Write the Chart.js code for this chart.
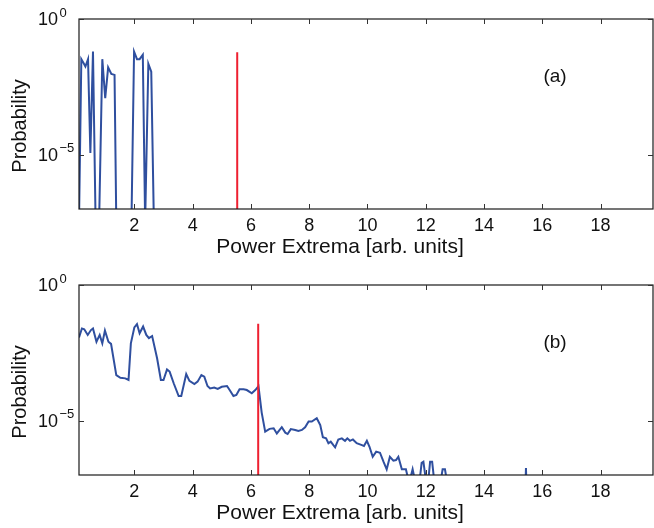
<!DOCTYPE html>
<html>
<head>
<meta charset="utf-8">
<script src="https://cdn.jsdelivr.net/npm/chart.js@4.4.1/dist/chart.umd.min.js"></script>
<style>
  html, body { margin: 0; padding: 0; background: #fff; }
  #wrap { position: relative; width: 654px; height: 528px; overflow: hidden; }
  canvas { position: absolute; left: 0; }
</style>
</head>
<body>
<div id="wrap">
  <canvas id="panelA" width="654" height="264" style="top:0px"></canvas>
  <canvas id="panelB" width="654" height="264" style="top:266px"></canvas>
</div>
<script>
// axis ranges and ticks
const xMin = 0.1, xMax = 19.8;
const yMin = 1e-7, yMax = 1;
const xTickValues = [2, 4, 6, 8, 10, 12, 14, 16, 18];
const yTickValues = [1e-5, 1];
const yTickExponents = ["\u22125", "0"];

// panel (a): bin centres and log10(probability); values under -7 fall below the axis
const topX   = [0.1, 0.18, 0.26, 0.32, 0.41, 0.49, 0.58, 0.67, 0.79, 0.9, 1.0, 1.1, 1.21, 1.32, 1.38,
                1.9, 1.99, 2.09, 2.18, 2.29, 2.37, 2.48, 2.58, 2.67];
const topExp = [-7.5, -1.48, -1.63, -1.75, -1.48, -4.94, -1.2, -7.5, -7.5, -1.48, -2.92, -1.78, -2.02, -2.06, -7.5,
                -7.5, -1.2, -1.48, -1.48, -1.32, -7.5, -1.65, -1.94, -7.5];

// panel (b)
const botX = [0.1, 0.2, 0.28, 0.4, 0.51, 0.58, 0.7, 0.81, 0.9, 0.99, 1.11, 1.2, 1.38, 1.52, 1.69, 1.8, 1.88,
              2.0, 2.09, 2.18, 2.3, 2.41, 2.5, 2.61, 2.78, 2.91, 3.0, 3.12, 3.21, 3.35, 3.52, 3.61, 3.78, 3.89,
              4.06, 4.17, 4.3, 4.4, 4.51, 4.6, 4.74, 4.86, 5.0, 5.18, 5.27, 5.4, 5.5, 5.61, 5.75, 5.86,
              6.03, 6.15, 6.26, 6.37, 6.49, 6.64, 6.78, 6.89, 7.06, 7.18, 7.26, 7.37, 7.52, 7.63, 7.75, 7.86,
              7.98, 8.09, 8.26, 8.38, 8.47, 8.58, 8.66, 8.74, 8.83, 8.89, 9.0, 9.12, 9.23, 9.31, 9.4, 9.5,
              9.63, 9.81, 9.88, 9.98, 10.07, 10.18, 10.3, 10.43, 10.55, 10.66, 10.77, 10.89, 10.98, 11.06,
              11.18, 11.32, 11.43, 11.55, 11.65, 11.78, 11.86, 11.92, 12.02, 12.08, 12.15, 12.22, 12.3,
              12.5, 12.58, 12.66, 12.74, 15.38, 15.44, 15.5];
const botExp = [-1.93, -1.6, -1.63, -1.84, -1.66, -1.6, -2.09, -1.84, -2.15, -1.68, -2.09, -2.17, -3.32, -3.42, -3.44, -3.5, -2.15,
                -1.56, -1.44, -1.78, -1.53, -1.84, -1.96, -1.88, -2.7, -3.5, -3.5, -3.11, -3.19, -3.62, -4.09, -4.09, -3.28, -3.53,
                -3.65, -3.56, -3.32, -3.38, -3.72, -3.81, -3.78, -3.83, -3.75, -3.72, -3.87, -4.09, -4.05, -3.84, -3.84, -3.87,
                -3.99, -3.87, -3.73, -4.7, -5.4, -5.3, -5.28, -5.47, -5.24, -5.44, -5.49, -5.31, -5.34, -5.38, -5.34, -5.24,
                -5.03, -5.03, -4.91, -5.16, -5.61, -5.65, -5.83, -5.77, -5.9, -5.98, -5.69, -5.65, -5.74, -5.65, -5.74, -5.69,
                -5.83, -5.9, -5.93, -5.74, -5.96, -6.33, -6.14, -6.18, -6.51, -6.79, -6.33, -6.47, -6.45, -6.33,
                -6.79, -6.79, -7.3, -6.79, -7.3, -7.3, -6.55, -6.51, -7.3, -7.3, -6.51, -6.51, -7.3,
                -7.3, -6.79, -6.79, -7.3, -9, -6.74, -9];

// red threshold markers: x position and top value
const markerA = { x: 5.53, top: 0.06 };
const markerB = { x: 6.25, top: 0.037 };

const BOTTOM = 1e-12; // lower end of the red markers, below the axis
const BLUE = "#2f4f9f";
const RED = "#ee2030";
const FONT = "'Liberation Sans', Arial, sans-serif";

function toPoints(xs, exps) {
  return xs.map((x, i) => ({ x: x, y: Math.pow(10, exps[i]) }));
}

const framePlugin = {
  id: "frame",
  afterDraw(chart, args, opts) {
    const ctx = chart.ctx, a = chart.chartArea;
    const xs = chart.scales.x, ys = chart.scales.y;
    ctx.save();
    ctx.strokeStyle = "#1a1a1a";
    ctx.lineWidth = 1.2;
    ctx.strokeRect(a.left, a.top, a.right - a.left, a.bottom - a.top);

    ctx.strokeStyle = "#333";
    ctx.lineWidth = 1;
    ctx.beginPath();
    xTickValues.forEach(v => {
      const p = Math.round(xs.getPixelForValue(v)) + 0.5;
      ctx.moveTo(p, a.bottom); ctx.lineTo(p, a.bottom - 5);
      ctx.moveTo(p, a.top); ctx.lineTo(p, a.top + 5);
    });
    yTickValues.forEach(v => {
      const p = Math.round(ys.getPixelForValue(v)) + 0.5;
      ctx.moveTo(a.left, p); ctx.lineTo(a.left + 5, p);
      ctx.moveTo(a.right, p); ctx.lineTo(a.right - 5, p);
    });
    ctx.stroke();

    // y tick labels with superscript exponent
    ctx.fillStyle = "#111";
    ctx.textBaseline = "middle";
    yTickValues.forEach((v, i) => {
      const p = ys.getPixelForValue(v);
      ctx.font = "18px " + FONT;
      ctx.textAlign = "right";
      ctx.fillText("10", 58, p + 1);
      ctx.font = "13px " + FONT;
      ctx.textAlign = "left";
      ctx.fillText(yTickExponents[i], 59.5, p - 6);
    });

    // axis titles
    ctx.save();
    ctx.translate(20, 126);
    ctx.rotate(-Math.PI / 2);
    ctx.font = "20px " + FONT;
    ctx.textAlign = "center";
    ctx.fillText("Probability", 0, 0);
    ctx.restore();

    ctx.font = "21px " + FONT;
    ctx.textAlign = "center";
    ctx.fillText("Power Extrema [arb. units]", 340, 247);

    // panel tag
    ctx.font = "19px " + FONT;
    ctx.fillText(opts.tag, 555, 77);
    ctx.restore();
  }
};

function makePanel(id, xs, exps, marker, tag) {
  const ctx = document.getElementById(id).getContext("2d");
  return new Chart(ctx, {
    type: "line",
    data: {
      datasets: [
        {
          data: [{ x: marker.x, y: marker.top }, { x: marker.x, y: BOTTOM }],
          borderColor: RED,
          borderWidth: 2,
          pointRadius: 0,
        },
        {
          data: toPoints(xs, exps),
          borderColor: BLUE,
          borderWidth: 2,
          pointRadius: 0,
          tension: 0,
        },
      ],
    },
    options: {
      responsive: false,
      animation: false,
      layout: { padding: { top: 19, left: 0, right: 1, bottom: 0 } },
      plugins: {
        legend: { display: false },
        tooltip: { enabled: false },
        frame: { tag: tag },
      },
      scales: {
        x: {
          type: "linear",
          min: xMin,
          max: xMax,
          grid: { display: false, drawTicks: false },
          border: { display: false },
          afterBuildTicks: s => { s.ticks = xTickValues.map(v => ({ value: v })); },
          afterFit: s => { s.height = 55; },
          ticks: {
            padding: 6,
            color: "#111",
            font: { family: FONT, size: 18 },
            maxRotation: 0,
            autoSkip: false,
          },
        },
        y: {
          type: "logarithmic",
          min: yMin,
          max: yMax,
          grid: { display: false, drawTicks: false },
          border: { display: false },
          afterBuildTicks: s => { s.ticks = yTickValues.map(v => ({ value: v })); },
          afterFit: s => { s.width = 79; },
          ticks: { display: false },
        },
      },
    },
    plugins: [framePlugin],
  });
}

makePanel("panelA", topX, topExp, markerA, "(a)");
makePanel("panelB", botX, botExp, markerB, "(b)");
</script>
</body>
</html>
